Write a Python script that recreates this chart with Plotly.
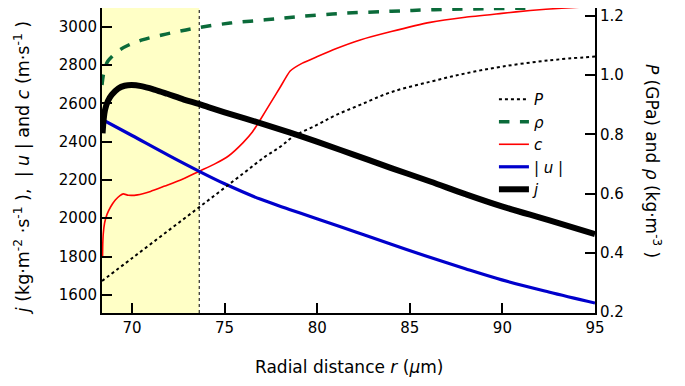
import plotly.graph_objects as go

# ---- data ----
j_x = [68.41, 68.54, 68.7, 68.9, 69.26, 69.6, 69.98, 70.5, 71.2, 71.9, 72.8, 73.6, 74.12,
       75.0, 76.92, 78.5, 79.98, 82.0, 84.0, 86.1, 88.0, 89.97, 92.5, 95.0]
j_v = [2444, 2565, 2612, 2644, 2678, 2692, 2696, 2690, 2672, 2650, 2620, 2597, 2580,
       2553, 2497, 2448, 2400, 2331, 2262, 2192, 2126, 2062, 1990, 1917]

u_x = [68.41, 70.0, 72.0, 73.63, 75.0, 76.92, 78.5, 79.98, 82.0, 84.0, 85.83, 88.0, 89.97, 92.5, 95.0]
u_v = [2515, 2432, 2327, 2245, 2180, 2100, 2046, 1997, 1931, 1864, 1804, 1736, 1678, 1615, 1557]

c_x = [68.41, 68.42, 68.45, 68.52, 68.65, 68.85, 69.1, 69.35, 69.53, 69.8, 70.3, 71.0, 71.78,
       72.6, 73.58, 74.5, 75.21, 76.0, 76.5, 76.92, 77.5, 78.0, 78.54, 79.2, 79.98, 81.0,
       82.32, 84.0, 86.1, 88.0, 89.97, 91.5, 93.2, 94.3]
c_v = [1800, 1860, 1920, 1975, 2020, 2060, 2095, 2118, 2127, 2120, 2122, 2140, 2168,
       2198, 2243, 2285, 2325, 2395, 2450, 2513, 2605, 2684, 2769, 2810, 2843, 2885,
       2931, 2975, 3023, 3050, 3070, 3085, 3097, 3103]

rho_x = [68.38, 68.45, 68.56, 68.7, 68.92, 69.3, 69.82, 70.6, 71.62, 72.6, 73.6, 75.3,
         77.19, 79.0, 81.42, 84.0, 86.1, 88.5, 91.8]
rho_v = [0.967, 1.000, 1.029, 1.048, 1.063, 1.084, 1.102, 1.120, 1.136, 1.149, 1.161, 1.176,
         1.187, 1.198, 1.209, 1.216, 1.221, 1.224, 1.227]

p_x = [68.38, 70.0, 72.0, 74.0, 76.0, 77.19, 78.0, 78.72, 79.98, 81.0, 82.32, 84.0, 86.1,
       88.0, 89.97, 92.5, 95.0]
p_v = [0.305, 0.382, 0.477, 0.572, 0.668, 0.725, 0.758, 0.793, 0.832, 0.865, 0.900, 0.943,
       0.978, 1.006, 1.029, 1.050, 1.063]

x_ticks = [70, 75, 80, 85, 90, 95]
y_ticks = [1600, 1800, 2000, 2200, 2400, 2600, 2800, 3000]
y2_ticks = [0.2, 0.4, 0.6, 0.8, 1.0, 1.2]
y2_text = ["0.2", "0.4", "0.6", "0.8", "1.0", "1.2"]
shade_range = [68.38, 73.63]

FONT = "DejaVu Sans"

fig = go.Figure()
fig.add_trace(go.Scatter(x=p_x, y=p_v, yaxis="y2", mode="lines", name="<i>P</i>",
                         line=dict(color="black", width=2, dash="dot", shape="spline")))
fig.add_trace(go.Scatter(x=rho_x, y=rho_v, yaxis="y2", mode="lines", name="<i>ρ</i>",
                         line=dict(color="#0b6b3a", width=3.5, dash="dash", shape="spline")))
fig.add_trace(go.Scatter(x=c_x, y=c_v, mode="lines", name="<i>c</i>",
                         line=dict(color="#ff0000", width=1.6, shape="spline", smoothing=0.5)))
fig.add_trace(go.Scatter(x=u_x, y=u_v, mode="lines", name="| <i>u</i> |",
                         line=dict(color="#0000cc", width=3.2, shape="spline")))
fig.add_trace(go.Scatter(x=j_x, y=j_v, mode="lines", name="<i>j</i>",
                         line=dict(color="black", width=6, shape="spline")))

fig.add_shape(type="rect", xref="x", yref="paper", x0=shade_range[0], x1=shade_range[1],
              y0=0, y1=1, fillcolor="#ffffc6", line=dict(width=0), layer="below")
fig.add_shape(type="line", xref="x", yref="paper", x0=shade_range[1], x1=shade_range[1],
              y0=0, y1=1, line=dict(color="black", width=1, dash="dot"), layer="below")

axis_common = dict(showline=True, linecolor="black", linewidth=2, ticks="inside",
                   ticklen=10, tickwidth=2, tickcolor="black", showgrid=False,
                   zeroline=False, tickfont=dict(family=FONT, size=15, color="black"))

fig.update_layout(
    width=685, height=386,
    margin=dict(l=102, r=90, t=8, b=73),
    plot_bgcolor="white", paper_bgcolor="white",
    font=dict(family=FONT, size=15, color="black"),
    xaxis=dict(range=[68.38, 95], tickvals=x_ticks, **axis_common),
    yaxis=dict(range=[1505, 3098], tickvals=y_ticks, **axis_common),
    yaxis2=dict(range=[0.197, 1.227], tickvals=y2_ticks, ticktext=y2_text,
                overlaying="y", side="right", anchor="x", **axis_common),
    legend=dict(x=0.795, y=0.754, xanchor="left", yanchor="top",
                bgcolor="rgba(0,0,0,0)", font=dict(family=FONT, size=15)),
    annotations=[
        dict(text="Radial distance <i>r</i> (<i>μ</i>m)", xref="paper", yref="paper",
             x=0.5, y=-0.177, xanchor="center", yanchor="middle", showarrow=False,
             font=dict(family=FONT, size=17)),
        dict(text="<i>j</i> (kg·m<sup>-2</sup> ·s<sup>-1</sup> ),  | <i>u</i> | and <i>c</i> (m·s<sup>-1</sup> )",
             xref="paper", yref="paper", x=-0.162, y=0.475, textangle=-90,
             xanchor="center", yanchor="middle", showarrow=False,
             font=dict(family=FONT, size=17.5)),
        dict(text="<i>P</i> (GPa) and <i>ρ</i> (kg·m<sup>-3</sup> )",
             xref="paper", yref="paper", x=1.118, y=0.498, textangle=90,
             xanchor="center", yanchor="middle", showarrow=False,
             font=dict(family=FONT, size=17)),
    ],
)

fig.write_html("out.html")
